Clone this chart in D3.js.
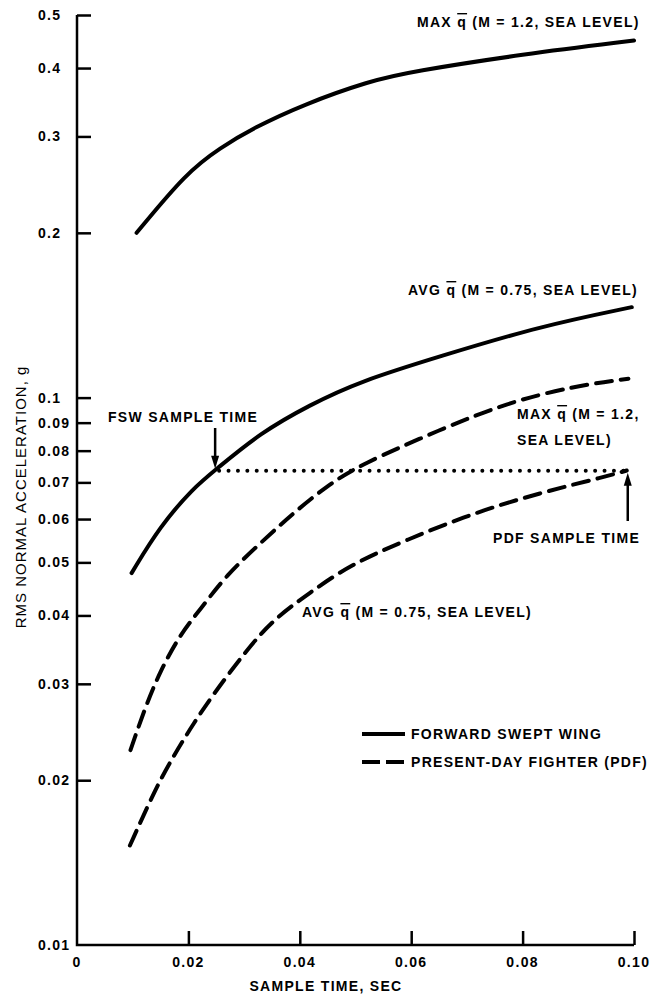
<!DOCTYPE html>
<html>
<head>
<meta charset="utf-8">
<script src="https://cdn.jsdelivr.net/npm/d3@7"></script>
<style>
  body { margin: 0; background: #fff; }
  svg text { font-family: "Liberation Sans", Arial, sans-serif; fill: #000; }
  .lbl { font-size: 14px; font-weight: bold; letter-spacing: 1.3px; }
</style>
</head>
<body>
<svg id="chart"></svg>
<script>
// sample time, sec / rms normal acceleration, g
var fswMaxT = [0.0107, 0.0197, 0.0257, 0.0317, 0.0406, 0.0526, 0.060, 0.080, 0.100];
var fswMaxG = [0.200, 0.258, 0.286, 0.311, 0.343, 0.379, 0.394, 0.424, 0.449];

var fswAvgT = [0.0098, 0.0149, 0.0209, 0.0248, 0.0329, 0.0418, 0.0508, 0.0652, 0.0831, 0.0996];
var fswAvgG = [0.0478, 0.0582, 0.0684, 0.0737, 0.0862, 0.0970, 0.1071, 0.119, 0.135, 0.1463];

var pdfMaxT = [0.0096, 0.0122, 0.0149, 0.0185, 0.0221, 0.0269, 0.0329, 0.0388, 0.0448, 0.0508, 0.0652, 0.0771, 0.0891, 0.099];
var pdfMaxG = [0.0227, 0.0271, 0.0316, 0.0369, 0.0410, 0.0475, 0.0542, 0.0615, 0.0689, 0.0754, 0.0874, 0.0978, 0.1049, 0.1083];

var pdfAvgT = [0.0095, 0.0143, 0.0173, 0.0209, 0.0251, 0.0305, 0.0352, 0.0418, 0.0490, 0.0592, 0.0711, 0.0831, 0.0951, 0.0987];
var pdfAvgG = [0.0152, 0.0195, 0.0221, 0.0254, 0.0293, 0.0346, 0.0393, 0.0440, 0.0495, 0.0550, 0.0615, 0.0670, 0.0718, 0.0736];

var xTicks = [0, 0.02, 0.04, 0.06, 0.08, 0.10];
var xTickLabels = ["0", "0.02", "0.04", "0.06", "0.08", "0.10"];
var yTicks = [0.5, 0.4, 0.3, 0.2, 0.1, 0.09, 0.08, 0.07, 0.06, 0.05, 0.04, 0.03, 0.02, 0.01];

// sample time markers
var fswSampleT = 0.0248, pdfSampleT = 0.0987, sampleG = 0.0735;

var width = 664, height = 996;
var svg = d3.select("#chart").attr("width", width).attr("height", height);

var x = d3.scaleLinear().domain([0, 0.10]).range([77, 634]);
var y = d3.scaleLog().domain([0.01, 0.5]).range([945, 15]);

// axes
var xAxis = svg.append("g")
    .attr("transform", `translate(0, ${y(0.01)})`)
    .call(d3.axisTop(x).tickValues(xTicks.slice(1)).tickSize(14).tickFormat(""));
var yAxis = svg.append("g")
    .attr("transform", `translate(${x(0)}, 0)`)
    .call(d3.axisRight(y).tickValues(yTicks.slice(0, -1)).tickSize(14).tickFormat(""));
[xAxis, yAxis].forEach(function (g) {
    g.select(".domain").remove();
    g.selectAll("line").attr("stroke", "#000").attr("stroke-width", 2.5);
});
svg.append("path")
    .attr("d", `M${x(0)},${y(0.5)}V${y(0.01)}H${x(0.10)}`)
    .attr("fill", "none").attr("stroke", "#000").attr("stroke-width", 2.5);

svg.selectAll(".xlab").data(xTicks).enter().append("text")
    .attr("class", "lbl")
    .attr("x", d => x(d)).attr("y", 967)
    .attr("text-anchor", "middle")
    .text((d, i) => xTickLabels[i]);

svg.selectAll(".ylab").data(yTicks).enter().append("text")
    .attr("class", "lbl")
    .attr("x", 38).attr("y", d => y(d)).attr("dy", "0.36em")
    .text(d => String(d));

svg.append("text").attr("class", "lbl")
    .attr("x", 326).attr("y", 991).attr("text-anchor", "middle")
    .text("SAMPLE TIME, SEC");

svg.append("text")
    .attr("transform", "translate(26, 497) rotate(-90)")
    .attr("text-anchor", "middle")
    .style("font-size", "15px").style("letter-spacing", "1px")
    .text("RMS NORMAL ACCELERATION, g");

// curves
var line = d3.line()
    .x(d => x(d[0])).y(d => y(d[1]))
    .curve(d3.curveBasis);

var series = [
    { t: fswMaxT, g: fswMaxG, dash: null },
    { t: fswAvgT, g: fswAvgG, dash: null },
    { t: pdfMaxT, g: pdfMaxG, dash: "16,9" },
    { t: pdfAvgT, g: pdfAvgG, dash: "16,9" }
];
series.forEach(function (s) {
    svg.append("path")
        .datum(s.t.map((t, i) => [t, s.g[i]]))
        .attr("d", line)
        .attr("fill", "none")
        .attr("stroke", "#000")
        .attr("stroke-width", 4)
        .attr("stroke-linecap", "round")
        .attr("stroke-dasharray", s.dash);
});

// dotted sample level
svg.append("line")
    .attr("x1", x(fswSampleT) + 4).attr("x2", x(pdfSampleT))
    .attr("y1", y(sampleG)).attr("y2", y(sampleG))
    .attr("stroke", "#000").attr("stroke-width", 4)
    .attr("stroke-linecap", "round")
    .attr("stroke-dasharray", "0,9.4");

// arrows
function arrow(px, y0, y1) {
    var dir = y1 > y0 ? 1 : -1;
    svg.append("line")
        .attr("x1", px).attr("x2", px)
        .attr("y1", y0).attr("y2", y1 - dir * 8)
        .attr("stroke", "#000").attr("stroke-width", 2.5);
    svg.append("path")
        .attr("d", `M${px - 4},${y1 - dir * 13}L${px + 4},${y1 - dir * 13}L${px},${y1}Z`)
        .attr("fill", "#000");
}
arrow(x(fswSampleT), 428, y(sampleG) - 2);
arrow(x(pdfSampleT) + 1, 521, y(sampleG) + 2);

// annotations
function label(px, py, parts, anchor) {
    var t = svg.append("text").attr("class", "lbl")
        .attr("x", px).attr("y", py)
        .attr("text-anchor", anchor || "start");
    parts.forEach(function (p) {
        var ts = t.append("tspan").text(p.s);
        if (p.bar) ts.style("text-decoration", "overline");
    });
}
label(417, 27, [{ s: "MAX " }, { s: "q", bar: true }, { s: " (M = 1.2, SEA LEVEL)" }]);
label(408, 295, [{ s: "AVG " }, { s: "q", bar: true }, { s: " (M = 0.75, SEA LEVEL)" }]);
label(517, 419, [{ s: "MAX " }, { s: "q", bar: true }, { s: " (M = 1.2," }]);
label(517, 445, [{ s: "SEA LEVEL)" }]);
label(302, 617, [{ s: "AVG " }, { s: "q", bar: true }, { s: " (M = 0.75, SEA LEVEL)" }]);
label(108, 422, [{ s: "FSW SAMPLE TIME" }]);
label(493, 543, [{ s: "PDF SAMPLE TIME" }]);

// legend
var legendItems = [
    { name: "FORWARD SWEPT WING", dash: null },
    { name: "PRESENT-DAY FIGHTER (PDF)", dash: "18,6" }
];
var legend = svg.selectAll(".legend").data(legendItems).enter().append("g")
    .attr("class", "legend")
    .attr("transform", (d, i) => `translate(362, ${734 + i * 28})`);
legend.append("line")
    .attr("x1", 0).attr("x2", 43)
    .attr("stroke", "#000").attr("stroke-width", 4)
    .attr("stroke-dasharray", d => d.dash);
legend.append("text").attr("class", "lbl")
    .attr("x", 49).attr("dy", "0.36em")
    .text(d => d.name);
</script>
</body>
</html>
